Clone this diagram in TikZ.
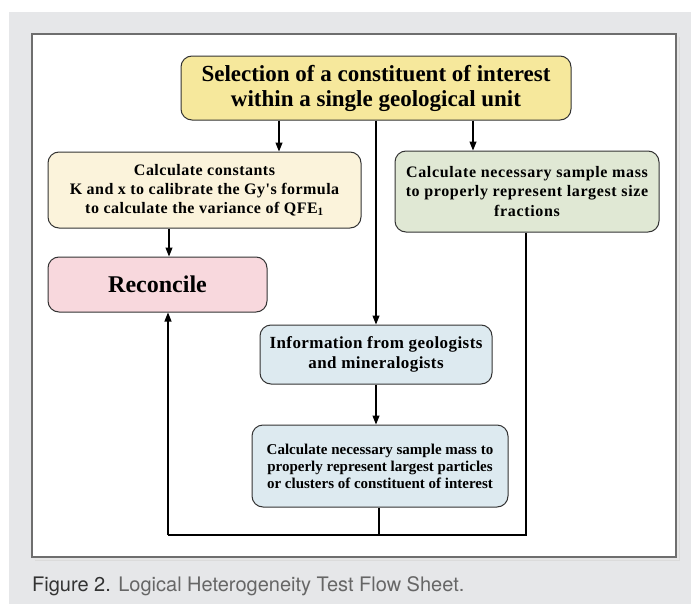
\documentclass[tikz,border=0pt]{standalone}
\usepackage{fontspec}
\usetikzlibrary{arrows.meta}
\newfontfamily\serN{Liberation Serif}
\newfontfamily\serA[LetterSpace=3]{Liberation Serif}
\newfontfamily\serG[LetterSpace=4]{Liberation Serif}
\newfontfamily\serB[LetterSpace=2.5]{Liberation Serif}
\newfontfamily\capfont{TeX Gyre Heros}
\definecolor{bggrey}{HTML}{E6E7E9}
\definecolor{frameline}{HTML}{6E6E6E}
\definecolor{boxline}{HTML}{333333}
\definecolor{topfill}{HTML}{F6E89C}
\definecolor{leftfill}{HTML}{FBF3DB}
\definecolor{greenfill}{HTML}{E0E8D4}
\definecolor{pinkfill}{HTML}{F8D8DD}
\definecolor{bluefill}{HTML}{DDEAF0}
\definecolor{capdark}{HTML}{333333}
\definecolor{caplight}{HTML}{666666}
\begin{document}
\begin{tikzpicture}[x=1pt,y=-1pt,
  flowbox/.style={draw=boxline, line width=1pt, rounded corners=11pt,
    inner sep=0pt, align=center, text=black},
  arr/.style={draw=black, line width=1.1pt, -{Triangle[length=9pt,width=7pt]}},
  conn/.style={draw=black, line width=1.1pt}]
\useasboundingbox (0,0) rectangle (691,605);
% background
\fill[bggrey] (9,12) rectangle (691,604);
% frame shadow
\fill[black!14] (35,37) rectangle (680,561);
\fill[black!10] (34,36) rectangle (679,560);
\filldraw[fill=white, draw=frameline, line width=1.6pt] (32,34) rectangle (676,557);
% nodes
\node[flowbox, fill=topfill, minimum width=390pt, minimum height=64pt,
  font=\serN\bfseries\fontsize{23}{25}\selectfont] (top) at (376,88)
  {Selection of a constituent of interest\\within a single geological unit};
\node[flowbox, fill=leftfill, minimum width=313pt, minimum height=76pt,
  font=\serA\bfseries\fontsize{16}{19}\selectfont] (calib) at (204.5,190)
  {Calculate constants\\K and x to calibrate the Gy's formula\\to calculate the variance of QFE\textsubscript{1}};
\node[flowbox, fill=greenfill, minimum width=264pt, minimum height=81pt,
  font=\serG\bfseries\fontsize{16}{19.5}\selectfont] (size) at (527,191.5)
  {Calculate necessary sample mass\\to properly represent largest size\\fractions};
\node[flowbox, fill=pinkfill, minimum width=219pt, minimum height=55pt,
  font=\serN\bfseries\fontsize{24}{26}\selectfont] (rec) at (157.5,284.5)
  {Reconcile};
\node[flowbox, fill=bluefill, minimum width=232pt, minimum height=59pt,
  font=\serB\bfseries\fontsize{17}{20}\selectfont] (info) at (376,354.5)
  {Information from geologists\\and mineralogists};
\node[flowbox, fill=bluefill, minimum width=256pt, minimum height=82pt,
  font=\serN\bfseries\fontsize{15}{17}\selectfont] (calc) at (380,466)
  {Calculate necessary sample mass to\\properly represent largest particles\\or clusters of constituent of interest};
% connector coordinates
\coordinate (xl) at (279,0);
\coordinate (xr) at (473,0);
\coordinate (xc) at (376,0);
\coordinate (xk) at (169,0);
\coordinate (xd) at (379,0);
\coordinate (bl) at (168,535);
\coordinate (br) at (526,535);
% connectors
\draw[arr] (top.south -| xl) -- (calib.north -| xl);
\draw[arr] (top.south -| xr) -- (size.north -| xr);
\draw[arr] (top.south -| xc) -- (info.north -| xc);
\draw[arr] (calib.south -| xk) -- (rec.north -| xk);
\draw[arr] (info.south -| xc) -- (calc.north -| xc);
\draw[conn] (size.south -| br) -- (br) -- (bl);
\draw[conn] (calc.south -| xd) -- (xd |- bl);
\draw[arr] (bl) -- (rec.south -| bl);
% caption
\node[anchor=base west, inner sep=0pt, font=\capfont\fontsize{20}{24}\selectfont] (cap) at (32,591)
  {\textcolor{capdark}{Figure 2.} \textcolor{caplight}{Logical Heterogeneity Test Flow Sheet.}};
\end{tikzpicture}
\end{document}
